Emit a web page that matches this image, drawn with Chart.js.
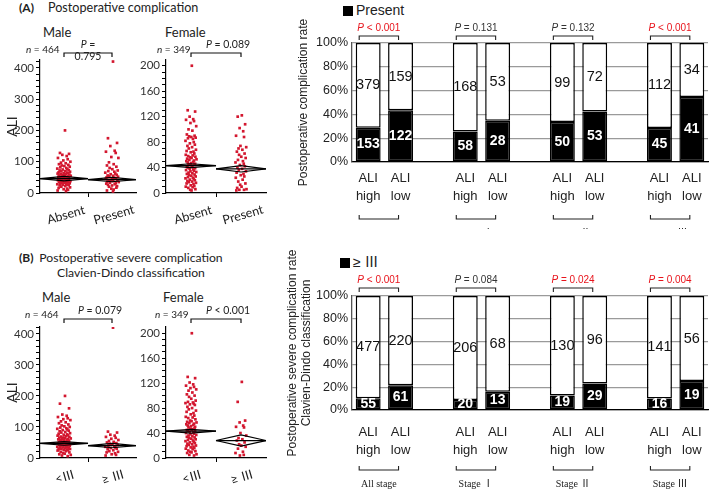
<!DOCTYPE html>
<html><head><meta charset="utf-8">
<script src="https://cdn.jsdelivr.net/npm/chart.js@4.4.1/dist/chart.umd.min.js"></script>
<style>
body{margin:0;width:709px;height:489px;background:#fff;position:relative;overflow:hidden;font-family:Lato,"Noto Sans CJK JP",sans-serif;color:#222}
canvas{position:absolute}
.t{position:absolute;white-space:nowrap;line-height:16px}
.sq{display:inline-block;width:10px;height:10px;background:#000;margin-right:3px;vertical-align:-1px}
</style></head><body>
<div class="t" style="left:19px;top:0px;font-size:12px"><b>(A)</b></div>
<div class="t" style="left:48px;top:0px;font-size:12.6px">Postoperative complication</div>
<div class="t" style="left:43px;top:24px;font-size:13px">Male</div>
<div class="t" style="left:165px;top:24px;font-size:13px">Female</div>
<div class="t" style="left:19px;top:250px;font-size:12px"><b>(B)</b></div>
<div class="t" style="left:31px;top:250px;width:200px;text-align:center;font-size:12.2px;line-height:15px">Postoperative severe complication<br>Clavien-Dindo classification</div>
<div class="t" style="left:42px;top:289px;font-size:13px">Male</div>
<div class="t" style="left:163px;top:289px;font-size:13px">Female</div>
<div class="t" style="left:343px;top:2px;font-size:14px;font-family:'Liberation Sans',sans-serif"><span class="sq"></span>Present</div>
<div class="t" style="left:340px;top:254px;font-size:14px;font-family:'Liberation Sans','Noto Sans CJK JP',sans-serif"><span class="sq"></span>≥ Ⅲ</div>

<canvas id="mA" width="140" height="195" style="left:0;top:40px"></canvas>
<canvas id="fA" width="142" height="195" style="left:128px;top:40px"></canvas>
<canvas id="mB" width="140" height="184" style="left:0;top:305px"></canvas>
<canvas id="fB" width="142" height="184" style="left:128px;top:305px"></canvas>
<canvas id="bA" width="417" height="229" style="left:292px;top:0"></canvas>
<canvas id="bB" width="428" height="249" style="left:281px;top:240px"></canvas>

<script>
// ---------------- DATA ----------------
const catsA = ['Absent', 'Present'];
const catsB = ['<Ⅲ', '≥ Ⅲ'];
const jitter = [0.03,-0.12,0.15,-0.05,0.08,-0.18,0.11,-0.02,0.19,-0.09,0.05,-0.15,0.13,-0.07,0.01,0.17,-0.11,0.07,-0.20,0.10,-0.04,0.14,-0.13,0.04,-0.08,0.18,-0.16,0.09,-0.01,0.12,-0.19,0.06,-0.10,0.16,-0.03,0.02,-0.14,0.20,-0.06,0.11,-0.17,0.08,-0.12,0.00,0.15,-0.09,0.13,-0.02,0.05,-0.15];

const maleA_absent = [200,128,125,122,118,112,108,104,100,97,95,92,90,88,86,84,82,80,78,76,75,73,72,70,69,68,66,65,64,63,62,61,60,59,58,57,56,55,54,53,52,51,50,50,49,48,48,47,46,45,45,44,43,42,42,41,40,39,38,37,36,35,34,33,32,31,30,29,28,27,26,25,24,22,20,18,16,14,12,10,8,6];
const maleA_present = [420,175,160,150,135,132,128,115,112,98,92,88,84,80,76,72,70,68,65,62,60,58,56,55,53,52,50,48,47,46,45,44,42,41,40,38,36,35,33,31,30,28,26,24,22,20,17,14,11,8,5];
const femaleA_absent = [200,130,128,120,116,115,113,110,105,100,98,92,90,89,88,87,86,85,82,80,78,76,74,72,70,68,66,65,64,62,60,59,58,57,56,55,54,53,52,51,50,49,48,47,46,45,45,44,43,42,41,40,39,38,37,36,35,34,33,32,31,30,29,28,27,26,25,24,23,22,21,20,19,18,17,16,15,14,12,11,10,9,8,6,5,4];
const femaleA_present = [122,120,108,102,97,90,88,74,72,70,68,65,62,60,57,55,52,50,48,46,44,42,40,38,36,34,32,30,28,26,24,21,18,15,13,10,8,6,5,5,4];
const maleB_lt3 = [200,175,160,140,136,132,128,125,122,118,115,112,108,105,102,100,98,96,94,92,90,88,86,84,82,80,78,76,75,73,72,70,69,68,66,65,64,63,62,61,60,59,58,57,56,55,54,53,52,51,50,50,49,48,48,47,46,45,45,44,43,42,42,41,40,39,38,37,36,35,34,33,32,31,30,29,28,27,26,25,24,22,20,18,16,14,12,10,8,6];
const maleB_ge3 = [420,85,82,75,72,68,65,62,58,55,52,50,48,46,44,42,40,38,36,34,32,30,28,25,22,20,18,15,12,10,8];
const femaleB_lt3 = [200,130,128,121,118,116,114,112,110,108,105,102,100,98,95,92,90,89,88,87,86,85,82,80,78,76,74,72,70,68,66,65,64,62,60,59,58,57,56,55,54,53,52,51,50,49,48,47,46,45,45,44,43,42,41,40,39,38,37,36,35,34,33,32,31,30,29,28,27,26,25,24,23,22,21,20,19,18,17,16,15,14,12,11,10,9,8,6,5,4];
const femaleB_ge3 = [122,90,60,57,52,50,49,40,36,32,30,28,25,22,20,18,15,10,8,5,4];

const meansMaleA = [46, 43],  ciMaleA = [[39,53],[36,50]];
const meansFemaleA = [43, 38], ciFemaleA = [[40,46],[33,43]];
const meansMaleB = [47, 40],  ciMaleB = [[41,53],[33,47]];
const meansFemaleB = [43, 28], ciFemaleB = [[40,46],[19,37]];

const maleTicks = [0,20,40,60,80,100,120,140,160,180,200,220,240,260,280,300,320,340,360,380,400,420];
const femaleTicks = [0,10,20,30,40,50,60,70,80,90,100,110,120,130,140,150,160,170,180,190,200];

const nMale = 'n = 464', nFemale = 'n = 349';
const pScatter = { mA: ['P =', '0.795'], fA: ['P = 0.089'], mB: ['P = 0.079'], fB: ['P < 0.001'] };

const barLabels = [['ALI','high'],['ALI','low'],'',['ALI','high'],['ALI','low'],'',['ALI','high'],['ALI','low'],'',['ALI','high'],['ALI','low']];
const barSlots = [0,1,3,4,6,7,9,10];
const groupNames = ['All stage','Stage Ⅰ','Stage Ⅱ','Stage Ⅲ'];
const compPresent = [153,122,58,28,50,53,45,41];
const compAbsent  = [379,159,168,53,99,72,112,34];
const pCompA = ['P < 0.001','P = 0.131','P = 0.132','P < 0.001'];
const sigCompA = [true,false,false,true];
const sevGe3 = [55,61,20,13,19,29,16,19];
const sevLt3 = [477,220,206,68,130,96,141,56];
const pSevB = ['P < 0.001','P = 0.084','P = 0.024','P = 0.004'];
const sigSevB = [true,false,true,true];
const yTicksPct = [0,20,40,60,80,100];

// ---------------- HELPERS ----------------
const FS = 'Lato,"Noto Sans CJK JP",sans-serif';
const FB = '"Liberation Sans","Noto Sans CJK JP",sans-serif';
function italicFirst(ctx, txt, x, y, color, size, align, fam) {
  ctx.save();
  ctx.fillStyle = color; ctx.textBaseline = 'middle'; ctx.textAlign = 'left';
  const f1 = 'italic ' + size + 'px ' + fam, f2 = size + 'px ' + fam;
  const a = txt[0], b = txt.slice(1);
  ctx.font = f1; const w1 = ctx.measureText(a).width;
  ctx.font = f2; const w2 = ctx.measureText(b).width;
  const sx = align === 'left' ? x : x - (w1 + w2) / 2;
  ctx.font = f1; ctx.fillText(a, sx, y);
  ctx.font = f2; ctx.fillText(b, sx + w1, y);
  ctx.restore();
}

function makeScatter(id, c) {
  const ds = [];
  c.groups.forEach((vals, g) => {
    const m = c.means[g], lo = c.cis[g][0], hi = c.cis[g][1];
    ds.push({ data: [{x:g,y:m},{x:g+0.5,y:hi},{x:g+1,y:m},{x:g+0.5,y:lo},{x:g,y:m}], showLine: true,
      borderColor: '#000', borderWidth: 1.2, pointRadius: 0, order: 0 });
    ds.push({ data: [{x:g,y:m},{x:g+1,y:m}], showLine: true, borderColor: '#000', borderWidth: 1.3, pointRadius: 0, order: 0 });
    ds.push({ data: vals.map((v, i) => ({ x: g + 0.5 + jitter[i % jitter.length] * c.spread, y: v })),
      pointStyle: 'rect', pointRadius: 1.9, backgroundColor: '#d3172f', borderWidth: 0, order: 1 });
  });
  const ann = {
    id: 'ann' + id,
    afterDraw(chart) {
      const ctx = chart.ctx, a = chart.chartArea, xs = chart.scales.x;
      ctx.save();
      c.cats.forEach((lab, g) => {
        ctx.save();
        ctx.translate(xs.getPixelForValue(g + 0.5) + c.labDx, a.bottom + c.labDy);
        ctx.rotate(-16 * Math.PI / 180);
        ctx.font = '12.5px ' + FS; ctx.fillStyle = '#222'; ctx.textAlign = 'center'; ctx.textBaseline = 'middle';
        ctx.fillText(lab, 0, 0);
        ctx.restore();
      });
      italicFirst(ctx, c.nText, a.left + c.nDx, a.top + c.nDy, '#222', 10, 'left', FS);
      const x1 = xs.getPixelForValue(0.5), x2 = xs.getPixelForValue(1.5), by = a.top + c.brY;
      ctx.strokeStyle = '#111'; ctx.lineWidth = 1.2;
      ctx.beginPath(); ctx.moveTo(x1, by + 4); ctx.lineTo(x1, by); ctx.lineTo(x2, by); ctx.lineTo(x2, by + 4); ctx.stroke();
      if (c.pText.length === 2) {
        italicFirst(ctx, c.pText[0], (x1 + x2) / 2, by - 8, '#222', 10.5, 'center', FS);
        ctx.font = '10.5px ' + FS; ctx.fillStyle = '#222'; ctx.textAlign = 'center'; ctx.textBaseline = 'middle';
        ctx.fillText(c.pText[1], (x1 + x2) / 2, by + 4);
      } else {
        italicFirst(ctx, c.pText[0], (x1 + x2) / 2 + 12, by - 8, '#222', 10.5, 'center', FS);
      }
      ctx.restore();
    }
  };
  new Chart(document.getElementById(id), {
    type: 'scatter',
    data: { datasets: ds },
    options: {
      responsive: false, animation: false, events: [],
      plugins: { legend: { display: false }, tooltip: { enabled: false } },
      layout: { padding: { top: c.padTop, right: c.padRight, left: 0, bottom: 0 } },
      scales: {
        x: { type: 'linear', min: 0, max: 2,
          afterBuildTicks: s => { s.ticks = [{ value: 1 }]; },
          ticks: { callback: () => '' },
          grid: { drawOnChartArea: false, tickLength: 4, color: '#000' },
          border: { color: '#000', width: 1.2 },
          afterFit: s => { s.height = c.xAxisHeight; } },
        y: { type: 'linear', min: 0, max: c.yMax,
          afterBuildTicks: s => { s.ticks = c.yTicks.map(v => ({ value: v })); },
          ticks: { autoSkip: false, callback: v => (v % c.labelEvery === 0 ? v : ''), font: { size: 11.5, family: FS }, color: '#333', padding: 2 },
          grid: { drawOnChartArea: false, tickLength: 4, color: '#000' },
          border: { color: '#000', width: 1.2 },
          title: { display: !!c.yTitle, text: c.yTitle || '', font: { size: 14, family: FS }, color: '#222', padding: { top: 4, bottom: 0 } },
          afterFit: s => { s.width = c.yAxisWidth; } }
      }
    },
    plugins: [ann]
  });
}

makeScatter('mA', { cats: catsA, groups: [maleA_absent, maleA_present], means: meansMaleA, cis: ciMaleA,
  yMax: 425, yTicks: maleTicks, labelEvery: 100, yAxisWidth: 40, xAxisHeight: 42, padTop: 20, padRight: 3,
  spread: 0.7, yTitle: 'ALI', labDx: 2, labDy: 22, nText: nMale, nDx: -14, nDy: -10, brY: -7, pText: pScatter.mA });
makeScatter('fA', { cats: catsA, groups: [femaleA_absent, femaleA_present], means: meansFemaleA, cis: ciFemaleA,
  yMax: 209, yTicks: femaleTicks, labelEvery: 40, yAxisWidth: 38, xAxisHeight: 42, padTop: 20, padRight: 3,
  spread: 0.55, labDx: 2, labDy: 22, nText: nFemale, nDx: -9, nDy: -10, brY: -7, pText: pScatter.fA });
makeScatter('mB', { cats: catsB, groups: [maleB_lt3, maleB_ge3], means: meansMaleB, cis: ciMaleB,
  yMax: 422, yTicks: maleTicks, labelEvery: 100, yAxisWidth: 40, xAxisHeight: 31, padTop: 22, padRight: 3,
  spread: 0.7, yTitle: 'ALI', labDx: 1, labDy: 19, nText: nMale, nDx: -15, nDy: -12, brY: -8, pText: pScatter.mB });
makeScatter('fB', { cats: catsB, groups: [femaleB_lt3, femaleB_ge3], means: meansFemaleB, cis: ciFemaleB,
  yMax: 210, yTicks: femaleTicks, labelEvery: 40, yAxisWidth: 38, xAxisHeight: 31, padTop: 22, padRight: 4,
  spread: 0.55, labDx: 1, labDy: 19, nText: nFemale, nDx: -11, nDy: -12, brY: -8, pText: pScatter.fB });

function makeBar(id, c) {
  const blk = new Array(barLabels.length).fill(null), wht = new Array(barLabels.length).fill(null);
  const cntB = new Array(barLabels.length).fill(null), cntW = new Array(barLabels.length).fill(null);
  barSlots.forEach((s, i) => {
    const tot = c.pos[i] + c.neg[i];
    blk[s] = c.pos[i] / tot * 100; wht[s] = c.neg[i] / tot * 100;
    cntB[s] = c.pos[i]; cntW[s] = c.neg[i];
  });
  const common = { borderColor: '#000', borderWidth: 1.5, borderSkipped: false, barPercentage: 0.77, categoryPercentage: 1 };
  const ann = {
    id: 'ann' + id,
    afterDraw(chart) {
      const ctx = chart.ctx, a = chart.chartArea;
      const m0 = chart.getDatasetMeta(0), m1 = chart.getDatasetMeta(1);
      ctx.save();
      ctx.textAlign = 'center'; ctx.textBaseline = 'middle';
      barSlots.forEach(s => {
        const eb = m0.data[s], ew = m1.data[s];
        ctx.font = 'bold 14px ' + FB; ctx.fillStyle = '#fff';
        ctx.fillText(String(cntB[s]), eb.x, (eb.y + eb.base) / 2);
        ctx.font = '14.5px ' + FB; ctx.fillStyle = '#111';
        ctx.fillText(String(cntW[s]), ew.x, (ew.y + ew.base) / 2);
      });
      for (let gI = 0; gI < 4; gI++) {
        const xh = m0.data[barSlots[gI * 2]].x, xl = m0.data[barSlots[gI * 2 + 1]].x;
        const x1 = xh - 9, x2 = xl - 2, cx = (x1 + x2) / 2;
        ctx.strokeStyle = '#222'; ctx.lineWidth = 1.1;
        const ty = a.top + c.topBr;
        ctx.beginPath(); ctx.moveTo(x1, ty + 4); ctx.lineTo(x1, ty); ctx.lineTo(x2, ty); ctx.lineTo(x2, ty + 4); ctx.stroke();
        italicFirst(ctx, c.pTexts[gI], cx, ty - 8, c.sig[gI] ? '#e8141c' : '#333', 10, 'center', FB);
        const by = a.bottom + c.botBr;
        ctx.beginPath(); ctx.moveTo(x1, by - 4); ctx.lineTo(x1, by); ctx.lineTo(x2, by); ctx.lineTo(x2, by - 4); ctx.stroke();
        ctx.font = '10px "Liberation Serif","Noto Sans CJK JP",serif'; ctx.fillStyle = '#222';
        ctx.textAlign = 'center'; ctx.textBaseline = 'middle';
        ctx.fillText(groupNames[gI], cx, by + 14);
      }
      ctx.restore();
    }
  };
  new Chart(document.getElementById(id), {
    type: 'bar',
    data: { labels: barLabels, datasets: [
      Object.assign({ data: blk, backgroundColor: '#000' }, common),
      Object.assign({ data: wht, backgroundColor: '#fff' }, common)
    ] },
    options: {
      responsive: false, animation: false, events: [],
      plugins: { legend: { display: false }, tooltip: { enabled: false } },
      layout: { padding: { top: c.padTop, right: 1, left: 0, bottom: 0 } },
      scales: {
        x: { stacked: true, grid: { display: false }, border: { color: '#000', width: 1.3 },
          ticks: { autoSkip: false, maxRotation: 0, font: { size: 13, family: FB, lineHeight: 1.35 }, color: '#222', padding: c.xPad },
          afterFit: s => { s.height = c.xAxisHeight; } },
        y: { stacked: true, min: 0, max: 100,
          afterBuildTicks: s => { s.ticks = yTicksPct.map(v => ({ value: v })); },
          ticks: { callback: v => v + '%', font: { size: 12.5, family: FB }, color: '#222', padding: 4 },
          grid: { color: '#9a9a9a', lineWidth: 1.3, drawTicks: false },
          border: { color: '#555', width: 1.3 },
          title: { display: true, text: c.title, font: { size: 12, family: FB }, color: '#222', padding: { top: 4, bottom: 0 } },
          afterFit: s => { s.width = c.yAxisWidth; } }
      }
    },
    plugins: [ann]
  });
}

makeBar('bA', { pos: compPresent, neg: compAbsent, pTexts: pCompA, sig: sigCompA, padTop: 43, xAxisHeight: 67,
  yAxisWidth: 60, xPad: 0, topBr: -7, botBr: 57, title: 'Postoperative complication rate' });
makeBar('bB', { pos: sevGe3, neg: sevLt3, pTexts: pSevB, sig: sigSevB, padTop: 56, xAxisHeight: 79,
  yAxisWidth: 71, xPad: 6, topBr: -8, botBr: 60, title: ['Postoperative severe complication rate', 'Clavien-Dindo classification'] });
</script>
</body></html>
